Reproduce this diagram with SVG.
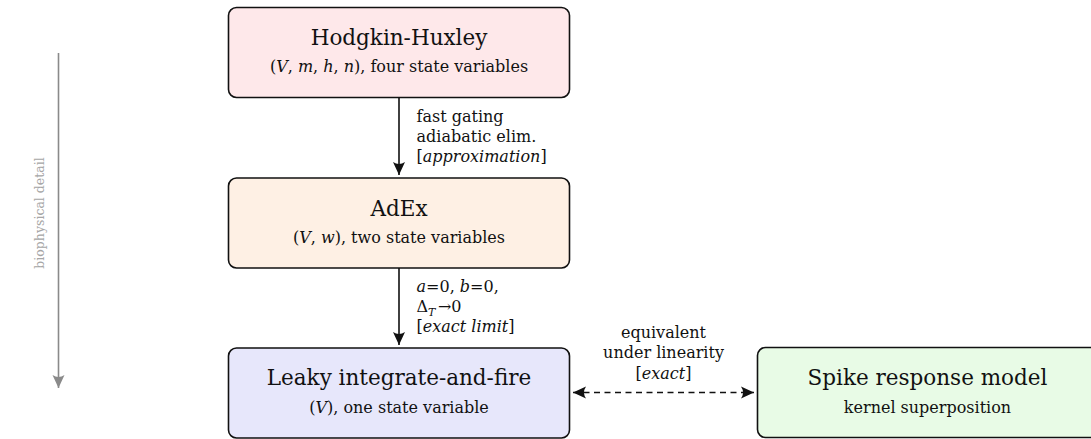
<svg xmlns="http://www.w3.org/2000/svg" width="1091" height="439" viewBox="0 0 1091 439">
<style>
  text { font-family: "DejaVu Serif", "Liberation Serif", serif; fill: #111; }
  .box { stroke: #111; stroke-width: 1.6; }
  .title { font-size: 21.5px; text-anchor: middle; }
  .sub { font-size: 16px; text-anchor: middle; }
  .lbl { font-size: 16px; }
  .clbl { font-size: 16px; text-anchor: middle; }
  .it { font-style: italic; }
  .conn { stroke: #111; stroke-width: 1.6; fill: none; }
  .axis { stroke: #8a8a8a; stroke-width: 1.6; fill: none; }
  .axtxt { font-size: 12.5px; fill: #a6a6a6; text-anchor: middle; }
</style>
<defs>
  <marker id="ah" viewBox="-14 -7 15 14" refX="0" refY="0" markerWidth="15" markerHeight="14" markerUnits="userSpaceOnUse" orient="auto-start-reverse">
    <path d="M0,0 L-13,-6 Q-9,0 -13,6 Z" fill="#111"/>
  </marker>
  <marker id="ahg" viewBox="-14 -7 15 14" refX="0" refY="0" markerWidth="15" markerHeight="14" markerUnits="userSpaceOnUse" orient="auto">
    <path d="M0,0 L-13,-6 Q-9,0 -13,6 Z" fill="#8a8a8a"/>
  </marker>
</defs>

<g id="axis">
  <line class="axis" x1="58.5" y1="53" x2="58.5" y2="388" marker-end="url(#ahg)"/>
  <text class="axtxt" transform="translate(44,213) rotate(-90)">biophysical detail</text>
</g>

<g id="connectors">
  <line class="conn" x1="399" y1="98" x2="399" y2="175" marker-end="url(#ah)"/>
  <text class="lbl" x="416.5" y="122">fast gating</text>
  <text class="lbl" x="416.5" y="142">adiabatic elim.</text>
  <text class="lbl" x="416.5" y="162">[<tspan class="it">approximation</tspan>]</text>

  <line class="conn" x1="399" y1="268" x2="399" y2="345" marker-end="url(#ah)"/>
  <text class="lbl" x="416.5" y="292"><tspan class="it">a</tspan>=0, <tspan class="it">b</tspan>=0,</text>
  <text class="lbl" x="416.5" y="312">Δ<tspan class="it" font-size="11" dy="4">T</tspan><tspan dx="2.5" dy="-4">→0</tspan></text>
  <text class="lbl" x="416.5" y="332">[<tspan class="it">exact limit</tspan>]</text>

  <line class="conn" x1="573" y1="392.5" x2="754" y2="392.5" stroke-dasharray="6 4.5" marker-start="url(#ah)" marker-end="url(#ah)"/>
  <text class="clbl" x="663.5" y="338">equivalent</text>
  <text class="clbl" x="663.5" y="358">under linearity</text>
  <text class="clbl" x="663.5" y="379">[<tspan class="it">exact</tspan>]</text>
</g>

<g id="hh">
  <rect class="box" x="228.5" y="7.5" width="341" height="90" rx="8" fill="#fee8ea"/>
  <text class="title" x="399" y="45">Hodgkin-Huxley</text>
  <text class="sub" x="399" y="72">(<tspan class="it">V</tspan>, <tspan class="it">m</tspan>, <tspan class="it">h</tspan>, <tspan class="it">n</tspan>), four state variables</text>
</g>

<g id="adex">
  <rect class="box" x="228.5" y="178" width="341" height="90" rx="8" fill="#fef0e4"/>
  <text class="title" x="399" y="216">AdEx</text>
  <text class="sub" x="399" y="243">(<tspan class="it">V</tspan>, <tspan class="it">w</tspan>), two state variables</text>
</g>

<g id="lif">
  <rect class="box" x="228.5" y="348" width="341" height="90" rx="8" fill="#e7e7fb"/>
  <text class="title" x="399" y="385">Leaky integrate-and-fire</text>
  <text class="sub" x="399" y="413">(<tspan class="it">V</tspan>), one state variable</text>
</g>

<g id="srm">
  <rect class="box" x="757.5" y="347.5" width="341" height="90" rx="8" fill="#e8fbe6"/>
  <text class="title" x="927.5" y="385">Spike response model</text>
  <text class="sub" x="927.5" y="413">kernel superposition</text>
</g>
</svg>
